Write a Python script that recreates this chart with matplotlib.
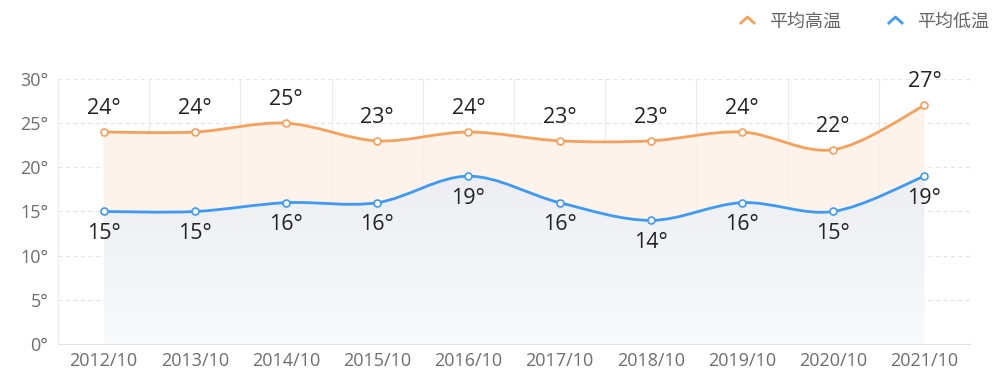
#!/usr/bin/env python3
import numpy as np
import matplotlib
matplotlib.use("Agg")
import matplotlib.pyplot as plt
from matplotlib.path import Path
from matplotlib.patches import PathPatch
from matplotlib.lines import Line2D

plt.rcParams["font.family"] = ["Open Sans", "Noto Sans CJK SC", "DejaVu Sans"]

years = ["2012/10", "2013/10", "2014/10", "2015/10", "2016/10",
         "2017/10", "2018/10", "2019/10", "2020/10", "2021/10"]
high_temp = [24, 24, 25, 23, 24, 23, 23, 24, 22, 27]
low_temp = [15, 15, 16, 16, 19, 16, 14, 16, 15, 19]
y_ticks = [0, 5, 10, 15, 20, 25, 30]

HIGH_COLOR = "#f7a05a"
LOW_COLOR = "#3d9af5"


def smooth_path_parts(xs, ys):
    # catmull-rom style bezier segments, like a smoothed line chart
    pts = np.column_stack([xs, ys]).astype(float)
    n = len(pts)
    verts = [tuple(pts[0])]
    codes = [Path.MOVETO]
    for i in range(n - 1):
        p0 = pts[i - 1] if i > 0 else pts[i]
        p1, p2 = pts[i], pts[i + 1]
        p3 = pts[i + 2] if i + 2 < n else pts[i + 1]
        c1 = p1 + (p2 - p0) / 6.0
        c2 = p2 - (p3 - p1) / 6.0
        verts += [tuple(c1), tuple(c2), tuple(p2)]
        codes += [Path.CURVE4] * 3
    return verts, codes


def reverse_curve(verts, codes):
    rv = list(reversed(verts))
    return rv[1:], [Path.CURVE4] * (len(rv) - 1), rv[0]


fig = plt.figure(figsize=(10, 3.88), dpi=100)
ax = fig.add_axes([0.058, 0.1134, 0.912, 0.683])
x = np.arange(len(years))

hv, hc = smooth_path_parts(x, high_temp)
lv, lc = smooth_path_parts(x, low_temp)

# area between high and low
rl, rlc, _ = reverse_curve(lv, lc)
band_verts = hv + [lv[-1]] + rl + [hv[0]]
band_codes = hc + [Path.LINETO] + rlc + [Path.CLOSEPOLY]
ax.add_patch(PathPatch(Path(band_verts, band_codes), facecolor="#fdf1e6",
                       edgecolor="none", alpha=0.8, zorder=1))

# area under low line, gradient
low_verts = lv + [(x[-1], 0), (x[0], 0), lv[0]]
low_codes = lc + [Path.LINETO, Path.LINETO, Path.CLOSEPOLY]
low_patch = PathPatch(Path(low_verts, low_codes), facecolor="none", edgecolor="none")
ax.add_patch(low_patch)
grad = np.linspace(0, 1, 256).reshape(-1, 1)
cmap = matplotlib.colors.LinearSegmentedColormap.from_list("g", ["#f9fafb", "#eceef3"])
img = ax.imshow(grad, extent=[x[0], x[-1], 0, max(low_temp)], aspect="auto",
                cmap=cmap, origin="lower", zorder=1)
img.set_clip_path(low_patch)

ax.add_patch(PathPatch(Path(hv, hc), facecolor="none", edgecolor=HIGH_COLOR, lw=2, zorder=3))
ax.add_patch(PathPatch(Path(lv, lc), facecolor="none", edgecolor=LOW_COLOR, lw=2, zorder=3))
ax.plot(x, high_temp, "o", ms=5, mfc="white", mec=HIGH_COLOR, mew=1.2, zorder=4)
ax.plot(x, low_temp, "o", ms=5, mfc="white", mec=LOW_COLOR, mew=1.2, zorder=4)

for xi, v in zip(x, high_temp):
    ax.annotate(f"{v}°", (xi, v), xytext=(0, 17), textcoords="offset points",
                ha="center", va="center", fontsize=15.5, color="#222222", zorder=5)
for xi, v in zip(x, low_temp):
    ax.annotate(f"{v}°", (xi, v), xytext=(0, -16), textcoords="offset points",
                ha="center", va="center", fontsize=15.5, color="#222222", zorder=5)

ax.set_xlim(-0.5, len(years) - 0.5)
ax.set_ylim(0, 30)
ax.set_yticks(y_ticks)
ax.set_yticklabels([f"{t}°" for t in y_ticks])
ax.set_xticks(x)
ax.set_xticklabels(years)
ax.tick_params(length=0, labelsize=13, colors="#6e6e6e")
ax.tick_params(axis="x", pad=6)
ax.tick_params(axis="y", pad=7)

for t in y_ticks[1:]:
    ax.axhline(t, color="#e3e3e3", lw=0.9, ls=(0, (3, 3)), zorder=0)
for b in np.arange(len(years) + 1) - 0.5:
    ax.axvline(b, color="#ececec", lw=0.9, zorder=0)
for s in ["top", "right", "left"]:
    ax.spines[s].set_visible(False)
ax.spines["bottom"].set_color("#e0e0e0")
ax.spines["bottom"].set_zorder(0)

chevron = Path([(-1, -0.45), (0, 0.45), (1, -0.45)], [Path.MOVETO, Path.LINETO, Path.LINETO])
handles = [
    Line2D([], [], ls="none", marker=chevron, ms=11, mfc="none", mec=HIGH_COLOR, mew=2),
    Line2D([], [], ls="none", marker=chevron, ms=11, mfc="none", mec=LOW_COLOR, mew=2),
]
leg = fig.legend(handles, ["平均高温", "平均低温"], loc="upper right",
                 bbox_to_anchor=(1.005, 1.01), ncol=2, frameon=False, fontsize=13,
                 handlelength=1.2, handletextpad=0.6, columnspacing=2.4)
for t in leg.get_texts():
    t.set_color("#666666")

fig.savefig("out.png", dpi=100, facecolor="white")
